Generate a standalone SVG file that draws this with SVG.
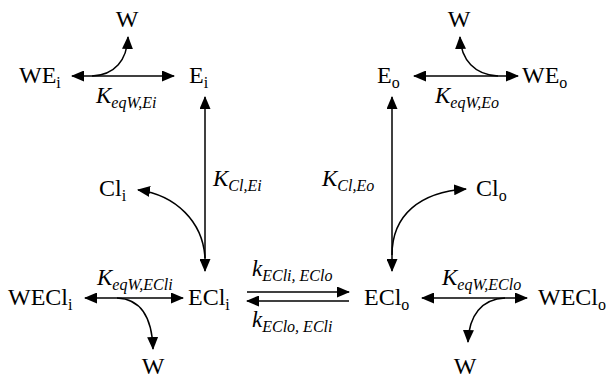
<svg xmlns="http://www.w3.org/2000/svg" width="610" height="379" viewBox="0 0 610 379">
  <style>
    .t { font-size: 24px; fill: #000; }
    .k { font-size: 23px; font-style: italic; }
    .sub { font-size: 16px; }
    .ksub { font-size: 16px; font-style: italic; }
    .ln { fill: none; stroke: #000; stroke-width: 1.5; }
  </style>
  <defs>
    <marker id="ah" markerUnits="userSpaceOnUse" markerWidth="13" markerHeight="11" refX="12" refY="5.5" orient="auto-start-reverse">
      <path d="M0,0 L13,5.5 L0,11 z" fill="#000"/>
    </marker>
  </defs>

  <rect width="610" height="379" fill="#fff"/>

  <!-- connectors -->
  <g id="connectors">
    <!-- water binding, top -->
    <line class="ln" x1="72" y1="76" x2="174" y2="76" marker-start="url(#ah)" marker-end="url(#ah)"/>
    <path class="ln" d="M92,76 C115,75 127,60 128,37" marker-end="url(#ah)"/>
    <line class="ln" x1="414" y1="76" x2="518" y2="76" marker-start="url(#ah)" marker-end="url(#ah)"/>
    <path class="ln" d="M498,76 C475,75 461,60 460,37" marker-end="url(#ah)"/>

    <!-- chloride binding, vertical -->
    <line class="ln" x1="205" y1="97" x2="205" y2="271" marker-start="url(#ah)" marker-end="url(#ah)"/>
    <path class="ln" d="M205,258 C203,222 176,195 138,190" marker-end="url(#ah)"/>
    <line class="ln" x1="392" y1="97" x2="392" y2="271" marker-start="url(#ah)" marker-end="url(#ah)"/>
    <path class="ln" d="M392,255 C392,215 420,192 466,189" marker-end="url(#ah)"/>

    <!-- translocation -->
    <line class="ln" x1="247" y1="292" x2="349" y2="292" marker-end="url(#ah)"/>
    <line class="ln" x1="247" y1="301" x2="349" y2="301" marker-start="url(#ah)"/>

    <!-- water binding, bottom -->
    <line class="ln" x1="85" y1="298" x2="183" y2="298" marker-start="url(#ah)" marker-end="url(#ah)"/>
    <path class="ln" d="M117,298 C140,299 152,315 153,349" marker-end="url(#ah)"/>
    <line class="ln" x1="422" y1="298" x2="527" y2="298" marker-start="url(#ah)" marker-end="url(#ah)"/>
    <path class="ln" d="M505,298 C482,299 469,315 468,342" marker-end="url(#ah)"/>
  </g>

  <g font-family="'Liberation Serif', 'DejaVu Serif', serif">
    <!-- species -->
    <g id="W-top-i"><text class="t" x="127" y="27" text-anchor="middle">W</text></g>
    <g id="WEi"><text class="t" x="19" y="83">WE<tspan class="sub" dy="5">i</tspan></text></g>
    <g id="Ei"><text class="t" x="189" y="83">E<tspan class="sub" dy="5">i</tspan></text></g>
    <g id="W-top-o"><text class="t" x="459" y="27" text-anchor="middle">W</text></g>
    <g id="Eo"><text class="t" x="377" y="83">E<tspan class="sub" dy="5">o</tspan></text></g>
    <g id="WEo"><text class="t" x="522" y="83">WE<tspan class="sub" dy="5">o</tspan></text></g>
    <g id="Cli"><text class="t" x="99" y="196">Cl<tspan class="sub" dy="5">i</tspan></text></g>
    <g id="Clo"><text class="t" x="476" y="196">Cl<tspan class="sub" dy="5">o</tspan></text></g>
    <g id="WECli"><text class="t" x="8" y="305">WECl<tspan class="sub" dy="5">i</tspan></text></g>
    <g id="ECli"><text class="t" x="188" y="305">ECl<tspan class="sub" dy="5">i</tspan></text></g>
    <g id="EClo"><text class="t" x="364" y="305">ECl<tspan class="sub" dy="5">o</tspan></text></g>
    <g id="WEClo"><text class="t" x="538" y="305">WECl<tspan class="sub" dy="5">o</tspan></text></g>
    <g id="W-bot-i"><text class="t" x="153" y="374" text-anchor="middle">W</text></g>
    <g id="W-bot-o"><text class="t" x="465" y="374" text-anchor="middle">W</text></g>

    <!-- constants -->
    <g id="labels">
      <text class="t k" x="96" y="103">K<tspan class="ksub" dy="5">eqW,Ei</tspan></text>
      <text class="t k" x="435" y="103">K<tspan class="ksub" dy="5">eqW,Eo</tspan></text>
      <text class="t k" x="213" y="186">K<tspan class="ksub" dy="5">Cl,Ei</tspan></text>
      <text class="t k" x="322" y="186">K<tspan class="ksub" dy="5">Cl,Eo</tspan></text>
      <text class="t k" x="97" y="285">K<tspan class="ksub" dy="5">eqW,ECli</tspan></text>
      <text class="t k" x="442" y="285">K<tspan class="ksub" dy="5">eqW,EClo</tspan></text>
      <text class="t k" x="252" y="276">k<tspan class="ksub" dy="5">ECli, EClo</tspan></text>
      <text class="t k" x="252" y="327">k<tspan class="ksub" dy="5">EClo, ECli</tspan></text>
    </g>
  </g>
</svg>
